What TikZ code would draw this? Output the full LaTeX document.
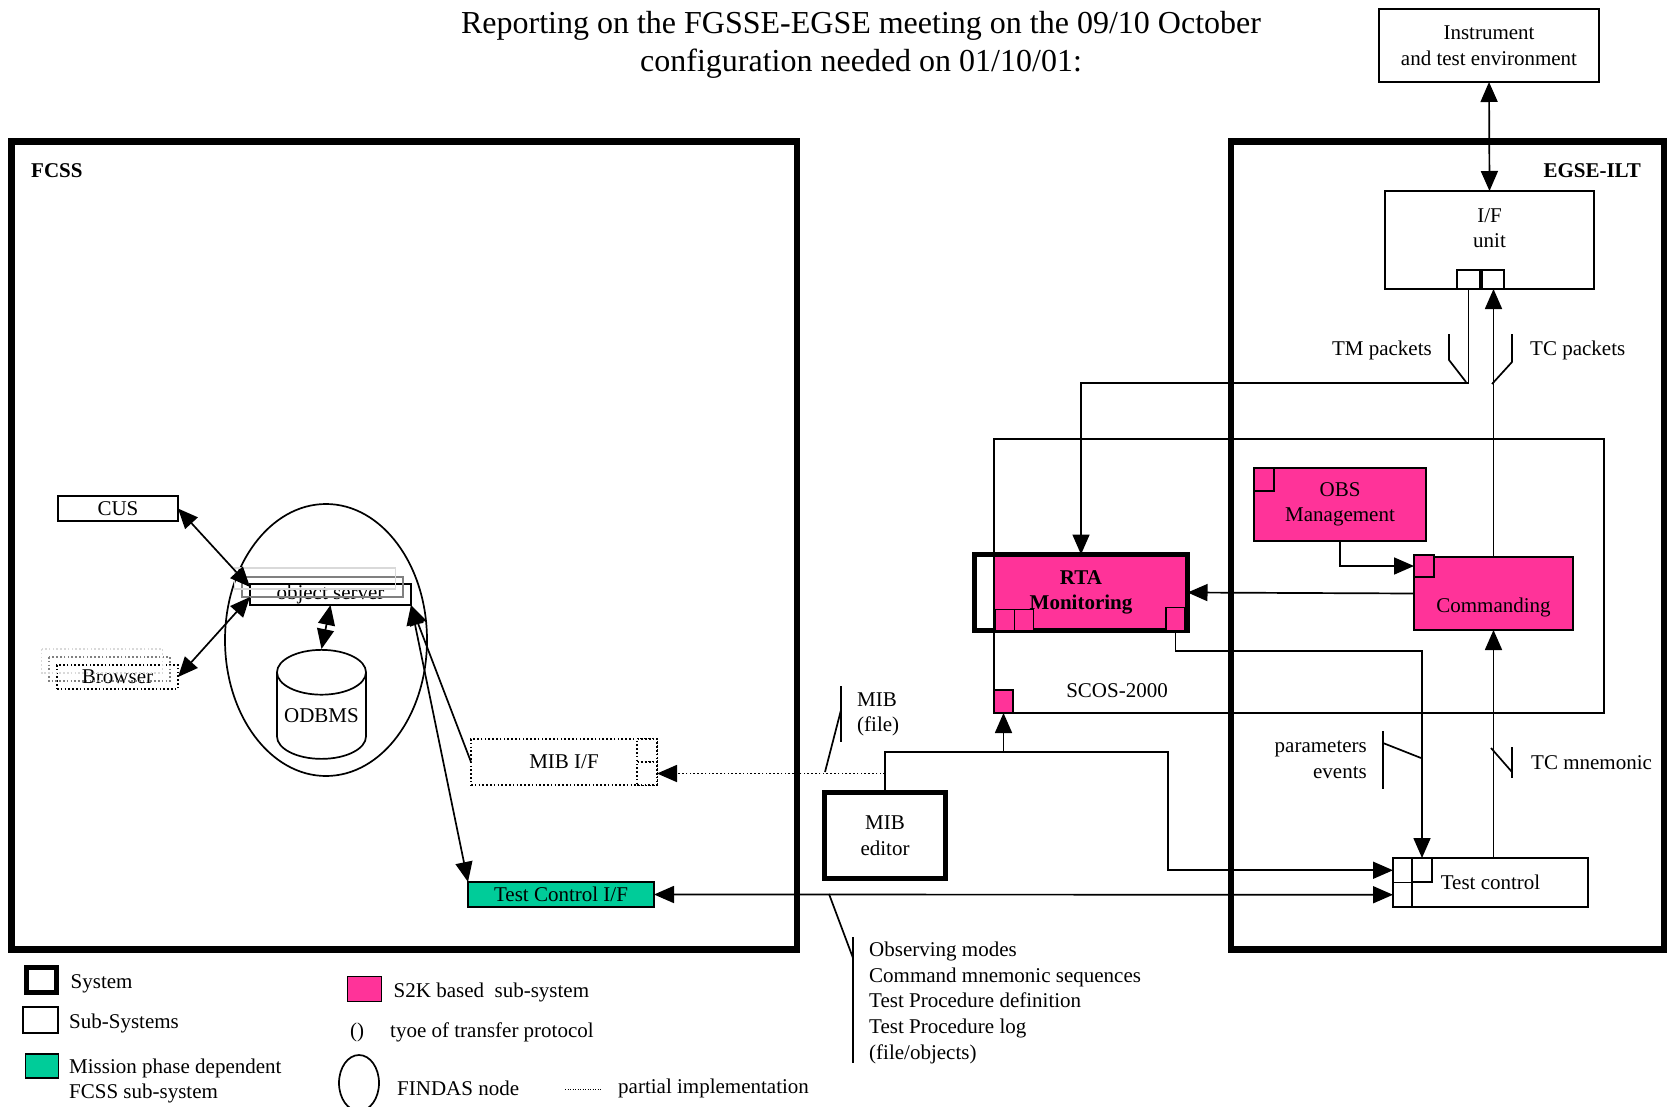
\documentclass[tikz,border=0pt]{standalone}
\usepackage{fontspec}
\setmainfont{Liberation Serif}
\usepackage{tikz}
\usetikzlibrary{shapes.geometric,arrows.meta,positioning}
\definecolor{s2kpink}{RGB}{255,51,153}
\definecolor{mpdgreen}{RGB}{0,204,153}
\newcommand{\bodyfont}{\fontsize{21pt}{25.6pt}\selectfont}
\newcommand{\titlefont}{\fontsize{32pt}{38pt}\selectfont}

\begin{document}
\begin{tikzpicture}[x=1pt,y=-1pt,font=\bodyfont,
  blk/.style={draw,line width=1.7pt,fill=white,inner sep=1pt,outer sep=0pt,align=center},
  sys/.style={blk,line width=5pt},
  frm/.style={draw,line width=6.5pt,inner sep=0pt,outer sep=0pt},
  s2k/.style={blk,fill=s2kpink},
  mpd/.style={blk,fill=mpdgreen},
  part/.style={blk,dash pattern=on 1.6pt off 2.2pt},
  sq/.style={blk,fill=s2kpink,minimum width=19pt,minimum height=21pt,inner sep=0pt},
  wsq/.style={blk,inner sep=0pt},
  txt/.style={inner sep=0pt,align=left},
  tickln/.style={line width=1.7pt},
  arr/.style={-{Triangle[length=20pt,width=17pt]},line width=1.7pt},
  dbl/.style={{Triangle[length=20pt,width=17pt]}-{Triangle[length=20pt,width=17pt]},line width=1.7pt}]
\useasboundingbox (0,0) rectangle (1670,1107);

\node[font=\titlefont,align=center] (title) at (861,45) {Reporting on the FGSSE-EGSE meeting on the 09/10 October\\configuration needed on 01/10/01:};

\node[frm,minimum width=785.5pt,minimum height=808pt] (fcss) at (404.25,545.5) {};
\node[frm,minimum width=433pt,minimum height=808pt] (egse) at (1447.5,545.5) {};
\node[txt,font=\bodyfont\bfseries,anchor=west] (fcsslbl) at (31,171) {FCSS};
\node[txt,font=\bodyfont\bfseries,anchor=east] (egselbl) at (1641,171) {EGSE-ILT};

\node[blk,minimum width=220pt,minimum height=73pt] (instr) at (1489,45.5) {Instrument\\and test environment};
\node[blk,minimum width=209pt,minimum height=98pt] (ifu) at (1489.5,240) {};
\node[txt,align=center,below=17pt of ifu.north] (ifulbl) {I/F\\unit};
\node[wsq,minimum width=23pt,minimum height=19pt] (tmport) at (1468.5,279.5) {};
\node[wsq,minimum width=22pt,minimum height=19pt] (tcport) at (1493,279.5) {};
\draw[dbl] (instr.south) -- (ifu.north);

\node[blk,fill=none,minimum width=610pt,minimum height=274pt] (scos) at (1299,576) {};
\node (scoslbl) at (1117,691) {SCOS-2000};
\node[sq,anchor=south west,minimum height=23pt] (scossq) at (scos.south west) {};

\node[sys,minimum width=213pt,minimum height=76pt,font=\bodyfont\bfseries,
  path picture={\fill[s2kpink] ([xshift=19.5pt]path picture bounding box.north west) rectangle (path picture bounding box.south east);
    \draw[line width=1.7pt] ([xshift=19.5pt]path picture bounding box.north west) -- ([xshift=19.5pt]path picture bounding box.south west);}] (rta) at (1081,592.5) {RTA\\Monitoring};
\node[sq,anchor=south west] (rtaa) at ([xshift=21pt]rta.south west) {};
\node[sq,anchor=south west] (rtab) at (rtaa.south east) {};
\node[sq,anchor=south east,minimum height=23pt] (rtac) at ([xshift=-2.5pt]rta.south east) {};

\node[s2k,minimum width=172pt,minimum height=73pt] (obs) at (1340,504.5) {OBS\\Management};
\node[sq,anchor=north west,minimum width=20pt,minimum height=23pt] (obssq) at (obs.north west) {};

\node[s2k,minimum width=159pt,minimum height=73pt] (cmd) at (1493.5,593.5) {};
\node (cmdlbl) at ([yshift=-14pt]cmd.center) {Commanding};
\node[sq,anchor=north west,minimum width=20pt,minimum height=22pt] (cmdsq) at ([yshift=2pt]cmd.north west) {};

\node[blk,minimum width=195pt,minimum height=49pt] (tctl) at (1490.5,882.5) {Test control};
\node[wsq,anchor=north west,minimum width=19pt,minimum height=24.5pt] (tcin1) at (tctl.north west) {};
\node[wsq,anchor=north west,minimum width=19pt,minimum height=24.5pt] (tcin2) at (tcin1.south west) {};
\node[wsq,anchor=north west,minimum width=20pt,minimum height=24pt] (tcpar) at (tcin1.north east) {};

\node[sys,minimum width=121pt,minimum height=86pt] (mibed) at (885,835.5) {MIB\\editor};

\node[draw,ellipse,line width=1.7pt,minimum width=202pt,minimum height=272pt,inner sep=0pt] (findas) at (326,640) {};
\node[blk,fill=none,minimum width=161pt,minimum height=21pt,inner sep=0pt] (objs) at (330.5,594.5) {object server};
\draw[line width=1.7pt,black!50] ([shift={(-8,-7)}]objs.north west) rectangle ([shift={(-8,-8)}]objs.south east);
\draw[line width=1.7pt,black!15] ([shift={(-15.5,-16)}]objs.north west) rectangle ([shift={(-15.5,-16)}]objs.south east);
\node[draw,cylinder,shape border rotate=90,aspect=0.6,line width=1.7pt,minimum width=89pt,minimum height=109pt,inner sep=0pt] (odbms) at (321.5,716) {ODBMS};

\node[blk,minimum width=120pt,minimum height=25pt] (cus) at (118,508.5) {CUS};
\node[part,fill=none,minimum width=121pt,minimum height=24pt] (brw) at (117.5,677) {Browser};
\draw[line width=1.7pt,black!50,dash pattern=on 1.6pt off 2.2pt] ([shift={(-8,-8)}]brw.north west) rectangle ([shift={(-8,-8)}]brw.south east);
\draw[line width=1.7pt,black!15,dash pattern=on 1.6pt off 2.2pt] ([shift={(-15.5,-16)}]brw.north west) rectangle ([shift={(-15.5,-16)}]brw.south east);

\node[part,minimum width=186pt,minimum height=46pt] (mibif) at (564,762) {MIB I/F};
\node[part,anchor=north east,minimum width=20pt,minimum height=23pt,inner sep=0pt] (mibp1) at (mibif.north east) {};
\node[part,anchor=north east,minimum width=20pt,minimum height=23pt,inner sep=0pt] (mibp2) at (mibp1.south east) {};
\node[mpd,minimum width=186pt,minimum height=25pt] (tcif) at (561,894.5) {Test Control I/F};

\draw[dbl] (cus.east) -- ([yshift=-3pt]objs.north west);
\draw[dbl] (brw.east) -- ([yshift=8pt]objs.south west);
\draw[dbl] (objs.south) -- (odbms.north);
\draw[arr] (mibif.west) -- (objs.south east);
\draw[dbl] (objs.south east) -- (tcif.north west);
\draw[dbl] (tcif.east) -- (tcin2.west);
\draw[arr,dash pattern=on 1.6pt off 2.2pt] (mibed.north |- mibp2.east) -- (mibp2.east);

\coordinate (bus) at (1168,752);
\draw[arr] (mibed.north) |- (bus) |- (tcin1.west);
\draw[arr] (mibed.north |- bus) -| (scossq.south);
\draw[arr] (tmport.south) -- ++(0,94) -| (rta.north);
\draw[arr] (cmd.north) -- (cmd.north |- tcport.south);
\draw[arr] (obs.south) |- (cmdsq.west);
\draw[arr] (cmd.west) -- (rta.east);
\draw[arr] (rtac.south) -- ++(0,20.5) -| (tcpar.north);
\draw[arr] (cmd.south |- tctl.north) -- (cmd.south);

\node[txt,anchor=east] (tmlbl) at (1432,350) {TM packets};
\draw[tickln] (1449,334) -- (1449,360) -- (1466,382);
\node[txt,anchor=west] (tclbl) at (1530,350) {TC packets};
\draw[tickln] (1512,334) -- (1512,362) -- (1492,384);
\node[txt,align=right,anchor=east] (parlbl) at (1367,759.5) {parameters\\events};
\draw[tickln] (1383,731) -- (1383,789);
\draw[tickln] (1383,743) -- (1421,758);
\node[txt,anchor=west] (tcmlbl) at (1531,763) {TC mnemonic};
\draw[tickln] (1512,747) -- (1512,778);
\draw[tickln] (1491,748) -- (1512,772);
\node[txt,anchor=west] (miblbl) at (857,714.5) {MIB\\(file)};
\draw[tickln] (841,686) -- (841,742);
\draw[tickln] (841,710) -- (825,772);
\node[txt,anchor=north west] (modlbl) at (869,942) {Observing modes\\Command mnemonic sequences\\Test Procedure definition\\Test Procedure log\\(file/objects)};
\draw[tickln] (829,894) -- (853,958);
\draw[tickln] (853,937) -- (853,1063);

\node[sys,minimum width=30pt,minimum height=25pt] (lgsys) at (41.5,980) {};
\node[txt,right=14pt of lgsys,yshift=-4pt] (lgsystxt) {System};
\node[blk,minimum width=35pt,minimum height=26pt] (lgsub) at (40.5,1020) {};
\node[txt,right=11pt of lgsub,yshift=-3pt] (lgsubtxt) {Sub-Systems};
\node[mpd,minimum width=33pt,minimum height=24pt] (lgmpd) at (42,1066) {};
\node[txt,anchor=west] (lgmpdtxt) at (69,1081) {Mission phase dependent\\FCSS sub-system};
\node[s2k,minimum width=34pt,minimum height=25pt] (lgs2k) at (364.5,989) {};
\node[txt,right=12pt of lgs2k,yshift=-3pt] (lgs2ktxt) {S2K based\ \ sub-system};
\node[txt] (lgpar) at (357,1032) {()};
\node[txt,anchor=west] (lgpartxt) at (390,1032) {tyoe of transfer protocol};
\node[draw,ellipse,line width=1.7pt,minimum width=40pt,minimum height=56pt,inner sep=0pt] (lgfind) at (359,1083) {};
\node[txt,anchor=west] (lgfindtxt) at (397,1088) {FINDAS node};
\coordinate (lgdot) at (565,1089);
\draw[line width=1pt,dash pattern=on 1pt off 1.5pt] (lgdot) -- ++(37,0);
\node[txt,anchor=west] (lgdottxt) at (618,1088) {partial implementation};
\end{tikzpicture}
\end{document}
